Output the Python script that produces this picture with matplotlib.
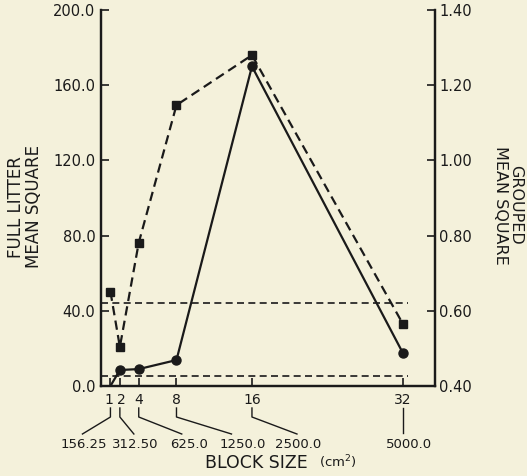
import matplotlib
matplotlib.use('Agg')
import matplotlib.pyplot as plt
import matplotlib.transforms as mtransforms
from matplotlib.lines import Line2D

# block number and the matching block area in cm2
block = [1, 2, 4, 8, 16, 32]
area_labels = ['156.25', '312.50', '625.0', '1250.0', '2500.0', '5000.0']

# mean squares for each block size
full_litter = [0.0, 8.5, 9.0, 13.8, 170.0, 17.5]
grouped = [0.651, 0.504, 0.781, 1.147, 1.280, 0.565]

# significance levels drawn as flat dashed lines
full_sig = 5.3
grouped_sig = 0.621
sig_end = 32.5

left_ticks = [0, 40, 80, 120, 160, 200]
right_ticks = [0.4, 0.6, 0.8, 1.0, 1.2, 1.4]

bg = '#f4f1db'
ink = '#1a1a1a'
W, H = 527, 476
fig = plt.figure(figsize=(W / 100, H / 100), dpi=100, facecolor=bg)
ax = fig.add_axes([101 / W, 1 - 386 / H, 334 / W, 376 / H])
ax.set_facecolor(bg)
ax2 = ax.twinx()

ax.set_xlim(0, 35.4)
ax.set_ylim(0, 200)
ax2.set_ylim(0.4, 1.4)

# full litter: solid line with circles (no marker on the first point)
ax.plot(block, full_litter, color=ink, lw=1.6, marker='o', ms=6.5,
        markevery=[1, 2, 3, 4, 5], zorder=3)
ax.plot([0, sig_end], [full_sig, full_sig], color=ink, lw=1.2,
        dashes=(4.2, 2.6))

# grouped: dashed line with squares
ax2.plot(block, grouped, color=ink, lw=1.6, marker='s', ms=5.5,
         dashes=(4.2, 2.4), zorder=3)
ax2.plot([0, sig_end], [grouped_sig, grouped_sig], color=ink, lw=1.2,
         dashes=(4.2, 2.6))

for a in (ax, ax2):
    for s in a.spines.values():
        s.set_linewidth(1.6)
        s.set_color(ink)
    a.spines['top'].set_visible(False)

ax.set_yticks(left_ticks)
ax.set_yticklabels([f'{v:.1f}' for v in left_ticks])
ax.set_xticks(block)
ax.set_xticklabels([str(b) for b in block])
ax.tick_params(axis='both', direction='in', length=6, width=1.2,
               labelsize=10.5, colors=ink, pad=4)
ax.tick_params(axis='x', labelsize=10, pad=5)

# nudge the crowded "1" and "2" labels apart a little
for lbl, dx in zip(ax.get_xticklabels()[:2], [-1.5, 2.0]):
    lbl.set_transform(lbl.get_transform() +
                      mtransforms.ScaledTranslation(dx / 100, 0, fig.dpi_scale_trans))

ax2.set_yticks(right_ticks)
ax2.set_yticklabels([f'{v:.2f}' for v in right_ticks])
ax2.tick_params(axis='y', direction='in', length=6, width=1.2,
                labelsize=10.5, colors=ink, pad=3)

# second row of tick labels (block area) with leader lines
label_dx = [-27, 15, 50, 66, 46, 6]
line_dx = [-28, 14, 43, 55, 45, 0]
fig.canvas.draw()
for b, lab, ldx, tdx in zip(block, area_labels, label_dx, line_dx):
    px, _ = ax.transData.transform((b, 0))
    if tdx == 0:
        xs, ys = [px, px], [H - 408, H - 433]
    else:
        xs, ys = [px, px, px + tdx], [H - 408, H - 417, H - 434]
    fig.add_artist(Line2D(xs, ys, transform=None, color=ink, lw=1.0))
    fig.text((px + ldx) / W, 1 - 444 / H, lab, ha='center', va='center',
             fontsize=9.5, color=ink)

fig.text(308 / W, 1 - 468 / H, 'BLOCK SIZE', ha='right', va='baseline',
         fontsize=12.5, color=ink)
fig.text(319 / W, 1 - 467 / H, '(cm$^2$)', ha='left', va='baseline',
         fontsize=9.5, color=ink)

fig.text(25 / W, 1 - 207 / H, 'FULL LITTER\nMEAN SQUARE', rotation=90,
         ha='center', va='center', fontsize=12, color=ink,
         multialignment='center', linespacing=1.05)
fig.text(508 / W, 1 - 205 / H, 'GROUPED\nMEAN SQUARE', rotation=-90,
         ha='center', va='center', fontsize=11.5, color=ink,
         multialignment='center', linespacing=1.0)

fig.savefig('out.png', dpi=100, facecolor=bg)
